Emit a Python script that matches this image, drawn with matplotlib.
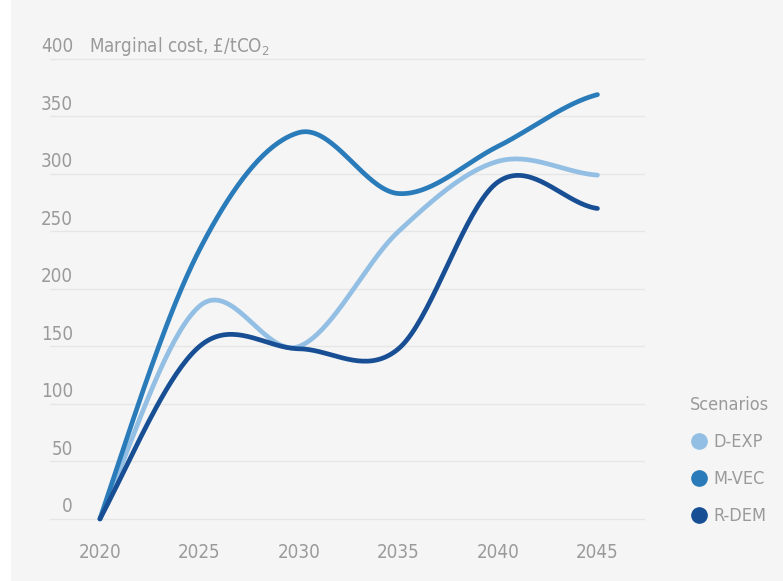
import numpy as np
import matplotlib
matplotlib.use('Agg')
import matplotlib.pyplot as plt
from matplotlib.lines import Line2D
from matplotlib.patches import Rectangle

plt.rcParams['font.family'] = ['DejaVu Sans']
plt.rcParams['font.stretch'] = 'condensed'
plt.rcParams['mathtext.default'] = 'regular'

years = [2020, 2025, 2030, 2035, 2040, 2045]
d_exp = [0, 185, 150, 250, 311, 299]
m_vec = [0, 234, 336, 283, 324, 369]
r_dem = [0, 150, 148, 148, 293, 270]
series_names = ['D-EXP', 'M-VEC', 'R-DEM']
colors = ['#92bfe3', '#2a7bba', '#184f94']
y_ticks = [0, 50, 100, 150, 200, 250, 300, 350, 400]


def catmull_rom(x, y, n=40):
    # smooth curve through the points (same look as the source chart's spline)
    x = np.asarray(x, float)
    y = np.asarray(y, float)
    m = np.zeros_like(y)
    m[1:-1] = (y[2:] - y[:-2]) / 2
    m[0] = (y[1] - y[0]) * 1.1
    m[-1] = (y[-1] - y[-2]) / 2
    xs, ys = [], []
    for i in range(len(x) - 1):
        t = np.linspace(0, 1, n)
        h00 = 2*t**3 - 3*t**2 + 1
        h10 = t**3 - 2*t**2 + t
        h01 = -2*t**3 + 3*t**2
        h11 = t**3 - t**2
        xs.append(x[i] + t * (x[i+1] - x[i]))
        ys.append(h00*y[i] + h10*m[i] + h01*y[i+1] + h11*m[i+1])
    return np.concatenate(xs), np.concatenate(ys)


fig = plt.figure(figsize=(7.83, 5.81), dpi=100, facecolor='white')
fig.patches.append(Rectangle((11/783, 0), 1, 1, transform=fig.transFigure,
                             facecolor='#f5f5f5', edgecolor='none', zorder=-10))

W, H = 783, 581
ax = fig.add_axes([50/W, (H-540)/H, 595/W, 500/H])
ax.set_facecolor('none')

for vals, name, c in zip([d_exp, m_vec, r_dem], series_names, colors):
    xs, ys = catmull_rom(years, vals)
    ax.plot(xs, ys, color=c, lw=3.4, solid_capstyle='round', label=name, zorder=3)

ax.set_xlim(2017.49, 2047.39)
ax.set_ylim(-18.3, 416.5)

for v in y_ticks:
    ax.axhline(v, color='#e6e6e6', lw=1, zorder=1)
    ax.text(0.0387, v + 10.5, str(v), transform=ax.get_yaxis_transform(),
            ha='right', va='center', color='#9a9a9a', fontsize=13.5)

ax.text(0.066, 400 + 10.5, 'Marginal cost, £/tCO$_2$', transform=ax.get_yaxis_transform(),
        ha='left', va='center', color='#9a9a9a', fontsize=13.5)

ax.set_yticks([])
ax.set_xticks(years)
ax.set_xticklabels([str(y) for y in years], color='#9a9a9a', fontsize=13.5)
ax.tick_params(axis='x', length=0, pad=2)
for s in ax.spines.values():
    s.set_visible(False)

handles = [Line2D([], [], ls='none', marker='o', markersize=11, color=c) for c in colors]
leg = fig.legend(handles, series_names, title='Scenarios', loc='upper left',
                 bbox_to_anchor=(674/W, 1 - 380/H), frameon=False, fontsize=13,
                 title_fontsize=13, alignment='left', handletextpad=0.3,
                 labelspacing=1.05, handlelength=1.0)
for t in leg.get_texts():
    t.set_color('#9a9a9a')
leg.get_title().set_color('#9a9a9a')

fig.savefig('out.png', dpi=100, facecolor=fig.get_facecolor())
